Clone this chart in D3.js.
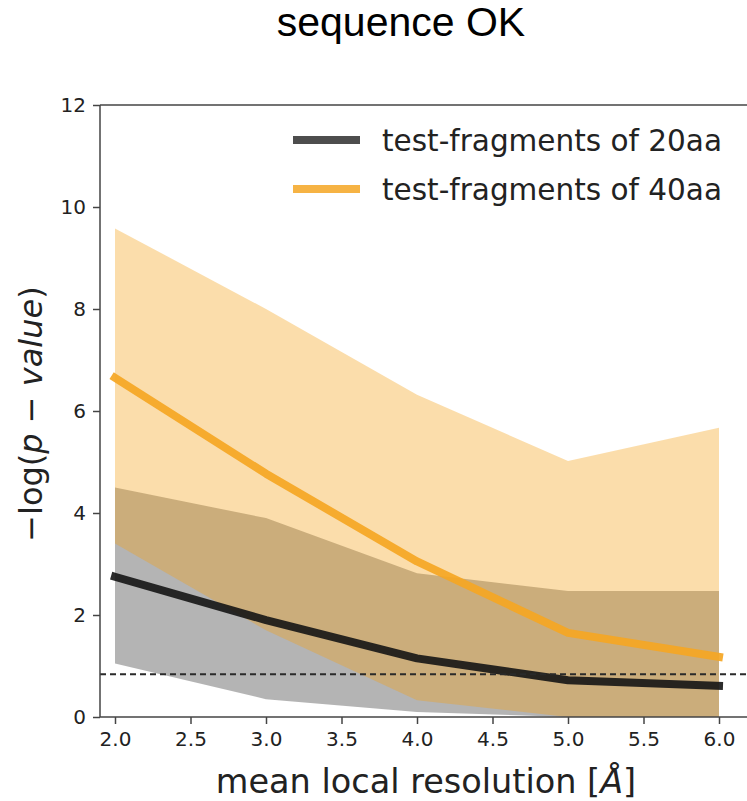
<!DOCTYPE html>
<html>
<head>
<meta charset="utf-8">
<script src="https://cdn.jsdelivr.net/npm/d3@7"></script>
<style>
  body { margin: 0; background: #fff; }
  svg text { font-family: "DejaVu Sans", sans-serif; }
</style>
</head>
<body>
<div class="chart"></div>
<script>
// resolution bins [Å]
const resolution = [2.0, 3.0, 4.0, 5.0, 6.0]
// 20aa fragments: mean and band
const mean20 = [2.75, 1.9, 1.15, 0.72, 0.61]
const low20 = [1.05, 0.35, 0.1, 0.0, 0.0]
const high20 = [4.5, 3.9, 2.82, 2.47, 2.47]
// 40aa fragments: mean and band
const mean40 = [6.65, 4.77, 3.05, 1.65, 1.18]
const low40 = [3.4, 1.7, 0.33, 0.0, 0.0]
const high40 = [9.58, 8.0, 6.32, 5.02, 5.67]
const threshold = 0.84
const xTicks = [2.0, 2.5, 3.0, 3.5, 4.0, 4.5, 5.0, 5.5, 6.0]
const yTicks = [0, 2, 4, 6, 8, 10, 12]
const seriesNames = ["test-fragments of 20aa", "test-fragments of 40aa"]

function renderChart() {
    const width = 747, height = 801
    const plot = {left: 100, right: 752, top: 105, bottom: 717}

    const x = d3.scaleLinear().domain([2, 6]).range([115, 719])
    const y = d3.scaleLinear().domain([0, 12]).range([plot.bottom, plot.top])

    const svg = d3.select('.chart').append('svg')
        .attr('width', width)
        .attr('height', height)

    const rows20 = resolution.map((r, i) => ({x: r, m: mean20[i], lo: low20[i], hi: high20[i]}))
    const rows40 = resolution.map((r, i) => ({x: r, m: mean40[i], lo: low40[i], hi: high40[i]}))

    const area = d3.area()
        .x(d => x(d.x))
        .y0(d => y(d.lo))
        .y1(d => y(d.hi))
    const line = d3.line()
        .x(d => x(d.x))
        .y(d => y(d.m))

    // bands
    svg.append('path').datum(rows20)
        .attr('d', area)
        .attr('fill', '#333')
        .attr('fill-opacity', 0.37)
    svg.append('path').datum(rows40)
        .attr('d', area)
        .attr('fill', '#f4a015')
        .attr('fill-opacity', 0.36)

    // mean lines
    svg.append('path').datum(rows20)
        .attr('d', line)
        .attr('fill', 'none')
        .attr('stroke', '#151515')
        .attr('stroke-opacity', 0.9)
        .attr('stroke-width', 8)
        .attr('stroke-linecap', 'square')
        .attr('stroke-linejoin', 'round')
    svg.append('path').datum(rows40)
        .attr('d', line)
        .attr('fill', 'none')
        .attr('stroke', '#f5a623')
        .attr('stroke-opacity', 0.92)
        .attr('stroke-width', 8)
        .attr('stroke-linecap', 'square')
        .attr('stroke-linejoin', 'round')

    // significance threshold
    svg.append('line')
        .attr('x1', plot.left).attr('x2', plot.right)
        .attr('y1', y(threshold)).attr('y2', y(threshold))
        .attr('stroke', '#2a2a2a')
        .attr('stroke-width', 2)
        .attr('stroke-dasharray', '6,4')

    // axes
    const yAxis = svg.append('g')
        .attr('transform', `translate(${plot.left},0)`)
        .call(d3.axisLeft(y).tickValues(yTicks).tickSize(7).tickPadding(7).tickSizeOuter(0))
    const xAxis = svg.append('g')
        .attr('transform', `translate(0,${plot.bottom})`)
        .call(d3.axisBottom(x).tickValues(xTicks).tickFormat(d3.format('.1f')).tickSize(7).tickPadding(8).tickSizeOuter(0))
    ;[yAxis, xAxis].forEach(a => {
        a.select('.domain').remove()
        a.selectAll('.tick line').attr('stroke', '#444').attr('stroke-width', 1.5)
        a.selectAll('.tick text')
            .attr('fill', '#222')
            .style('font-size', '20px')
            .style('font-family', '"DejaVu Sans", sans-serif')
    })

    // spines
    const spines = [
        [plot.left, plot.top, plot.left, plot.bottom],
        [plot.left, plot.top, plot.right, plot.top],
        [plot.left, plot.bottom, plot.right, plot.bottom]
    ]
    svg.selectAll('.spine').data(spines).enter()
        .append('line').attr('class', 'spine')
        .attr('x1', d => d[0]).attr('y1', d => d[1])
        .attr('x2', d => d[2]).attr('y2', d => d[3])
        .attr('stroke', '#444')
        .attr('stroke-width', 1.5)

    // labels
    const xl = svg.append('text')
        .attr('x', 426).attr('y', 793)
        .attr('text-anchor', 'middle')
        .style('font-size', '33.5px')
        .attr('fill', '#222')
    xl.append('tspan').text('mean local resolution [')
    xl.append('tspan').style('font-style', 'italic').text('Å')
    xl.append('tspan').text(']')

    const yl = svg.append('text')
        .attr('transform', 'translate(42,414) rotate(-90)')
        .attr('text-anchor', 'middle')
        .style('font-size', '32px')
        .attr('fill', '#222')
    yl.append('tspan').text('−log(')
    yl.append('tspan').style('font-style', 'italic').text('p')
    yl.append('tspan').text(' − ')
    yl.append('tspan').style('font-style', 'italic').text('value')
    yl.append('tspan').text(')')

    svg.append('text')
        .attr('x', 401).attr('y', 36)
        .attr('text-anchor', 'middle')
        .style('font-family', '"Liberation Sans", Arial, sans-serif')
        .style('font-size', '41px')
        .attr('fill', '#000')
        .text('sequence OK')

    // legend
    const legendColors = ['#151515', '#f5a623']
    const legendOpacity = [0.76, 0.85]
    const legend = svg.selectAll('.legend')
        .data(seriesNames).enter()
        .append('g')
        .attr('class', 'legend')
        .attr('transform', (d, i) => `translate(0,${140 + 49 * i})`)
    legend.append('line')
        .attr('x1', 297).attr('x2', 356)
        .attr('stroke', (d, i) => legendColors[i])
        .attr('stroke-opacity', (d, i) => legendOpacity[i])
        .attr('stroke-width', 8)
        .attr('stroke-linecap', 'square')
    legend.append('text')
        .attr('x', 382)
        .attr('dy', '0.36em')
        .style('font-size', '29.5px')
        .attr('fill', '#222')
        .text(d => d)
}

renderChart()
</script>
</body>
</html>
